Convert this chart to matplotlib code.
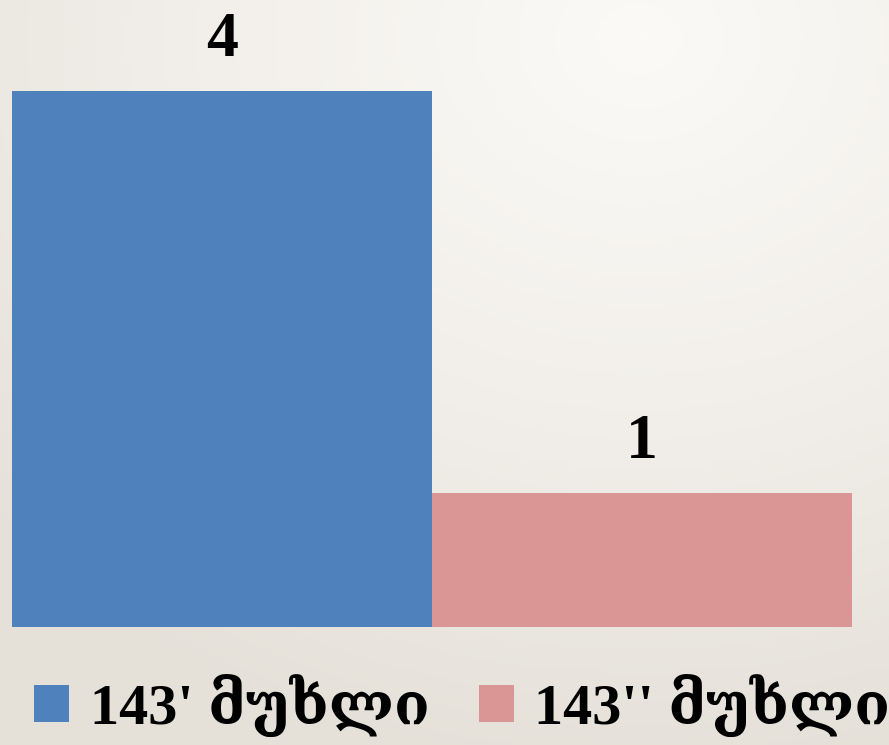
import numpy as np
import matplotlib
matplotlib.use("Agg")
import matplotlib.pyplot as plt
from matplotlib.colors import LinearSegmentedColormap

# data
series = ["143' მუხლი", "143'' მუხლი"]
values = [4, 1]
colors = ["#4f81bd", "#da9694"]

FONT = ["Liberation Serif", "DejaVu Serif"]

W, H = 889, 745
fig = plt.figure(figsize=(W / 100, H / 100), dpi=100)

# background: soft radial gradient, light at top right, beige at the bottom
bg = fig.add_axes([0, 0, 1, 1], zorder=-10)
yy, xx = np.mgrid[0:1:200j, 0:1:240j]
dist = np.sqrt((xx - 0.72) ** 2 + (yy - 0.05) ** 2)
dist = np.clip(dist, 0, 1)
cmap = LinearSegmentedColormap.from_list("bg", ["#fbfaf7", "#f2efea", "#e5e1d9"])
bg.imshow(dist, cmap=cmap, aspect="auto", extent=[0, 1, 0, 1], origin="upper")
bg.axis("off")

ax = fig.add_axes([12 / W, (H - 627) / H, 840 / W, 536 / H])
ax.patch.set_alpha(0)
for i, (name, v, c) in enumerate(zip(series, values, colors)):
    ax.bar(i, v, width=1.0, color=c, label=name)
    ax.annotate(str(v), (i, v), xytext=(0, 15), textcoords="offset points",
                ha="center", va="bottom", fontsize=46, fontweight="bold",
                family=FONT, annotation_clip=False)

ax.set_xlim(-0.5, 1.5)
ax.set_ylim(0, 4)
ax.axis("off")

leg = ax.legend(loc="upper center", bbox_to_anchor=(0.536, -0.045), ncol=2,
                frameon=False, prop={"family": FONT, "size": 42, "weight": "bold"},
                handlelength=0.6, handleheight=0.6, handletextpad=0.35,
                columnspacing=0.85, borderaxespad=0)

fig.savefig("out.png", dpi=100)
